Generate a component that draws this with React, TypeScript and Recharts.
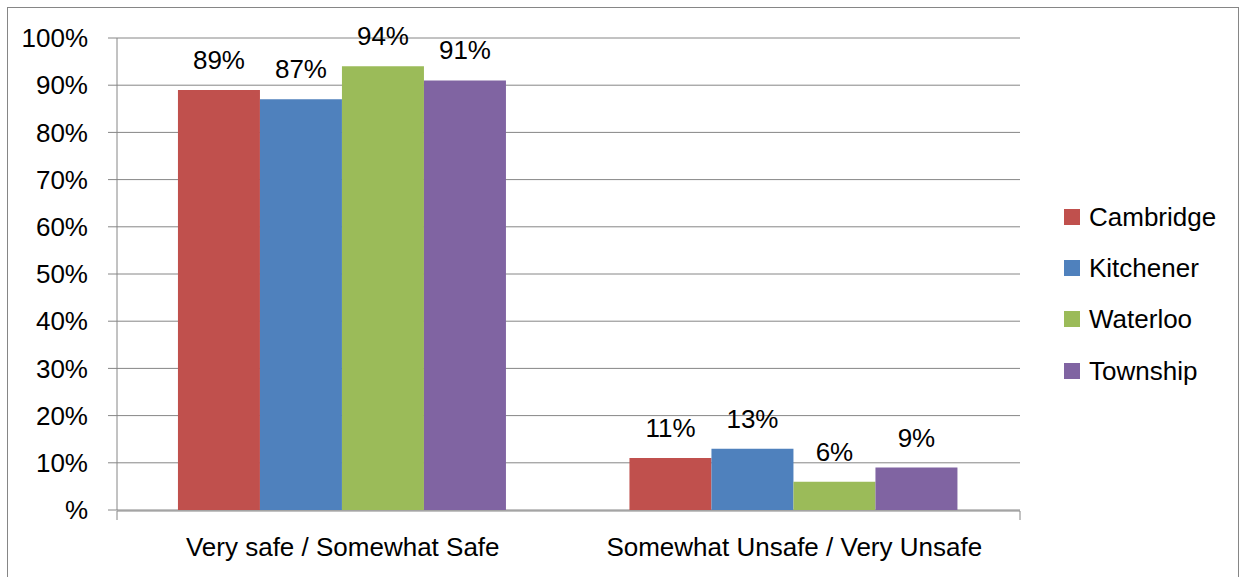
import { BarChart, Bar, XAxis, YAxis, CartesianGrid, LabelList } from 'recharts';

// share of respondents per municipality, in percent
const categories = ['Very safe / Somewhat Safe', 'Somewhat Unsafe / Very Unsafe'];
const cambridge = [89, 11];
const kitchener = [87, 13];
const waterloo = [94, 6];
const township = [91, 9];

const seriesNames = ['Cambridge', 'Kitchener', 'Waterloo', 'Township'];
const seriesColors = ['#C0504D', '#4F81BD', '#9BBB59', '#8064A2'];
const seriesValues = [cambridge, kitchener, waterloo, township];

const percentTicks = [0, 10, 20, 30, 40, 50, 60, 70, 80, 90, 100];
// category boundaries, used for the tick marks between the groups
const categoryEdges = [0, 1, 2];

const data = categories.map((name, i) => {
  const row: Record<string, string | number> = { name };
  seriesNames.forEach((s, k) => {
    row[s] = seriesValues[k][i];
  });
  return row;
});

const GRID = '#868686';
const FONT = '"Liberation Sans", Arial, sans-serif';

export default function App() {
  return (
    <div
      style={{
        position: 'absolute',
        left: 0,
        top: 0,
        width: 1244,
        height: 577,
        overflow: 'hidden',
        background: '#fff',
        fontFamily: FONT,
      }}
    >
      <div
        style={{
          position: 'absolute',
          left: 7,
          top: 7,
          width: 1232,
          height: 620,
          border: `1px solid ${GRID}`,
          boxSizing: 'border-box',
        }}
      />
      <div style={{ position: 'absolute', left: 0, top: 0 }}>
        <BarChart
          width={1244}
          height={577}
          data={data}
          margin={{ top: 38, right: 224, bottom: 65, left: 0 }}
          barCategoryGap="13.5%"
          barGap={0}
          style={{ fontFamily: FONT }}
        >
          <CartesianGrid vertical={false} stroke={GRID} strokeWidth={1} />
          <XAxis
            xAxisId="edges"
            type="number"
            domain={[0, 2]}
            ticks={categoryEdges}
            height={1}
            tickSize={9}
            tickFormatter={() => ''}
            axisLine={{ stroke: GRID }}
            tickLine={{ stroke: GRID }}
          />
          <XAxis
            dataKey="name"
            interval={0}
            height={1}
            axisLine={false}
            tickLine={false}
            tickSize={0}
            tickMargin={28}
            tick={{ fontSize: 26, fill: '#000' }}
          />
          <YAxis
            width={117}
            domain={[0, 100]}
            ticks={percentTicks}
            interval={0}
            tickSize={9}
            tickMargin={20}
            axisLine={{ stroke: GRID }}
            tickLine={{ stroke: GRID }}
            tick={{ fontSize: 26, fill: '#000' }}
            tickFormatter={(v: number) => (v === 0 ? '%' : `${v}%`)}
          />
          {seriesNames.map((s, k) => (
            <Bar key={s} dataKey={s} fill={seriesColors[k]} isAnimationActive={false}>
              <LabelList
                dataKey={s}
                position="top"
                offset={21}
                fill="#000"
                fontSize={26}
                formatter={(v: any) => `${v}%`}
              />
            </Bar>
          ))}
        </BarChart>
      </div>
      <div style={{ position: 'absolute', left: 1064, top: 191 }}>
        {seriesNames.map((s, k) => (
          <div key={s} style={{ display: 'flex', alignItems: 'center', height: 51.3 }}>
            <span
              style={{
                display: 'inline-block',
                width: 16,
                height: 16,
                background: seriesColors[k],
                marginRight: 9,
              }}
            />
            <span style={{ fontSize: 26, color: '#000', lineHeight: '26px' }}>{s}</span>
          </div>
        ))}
      </div>
    </div>
  );
}
